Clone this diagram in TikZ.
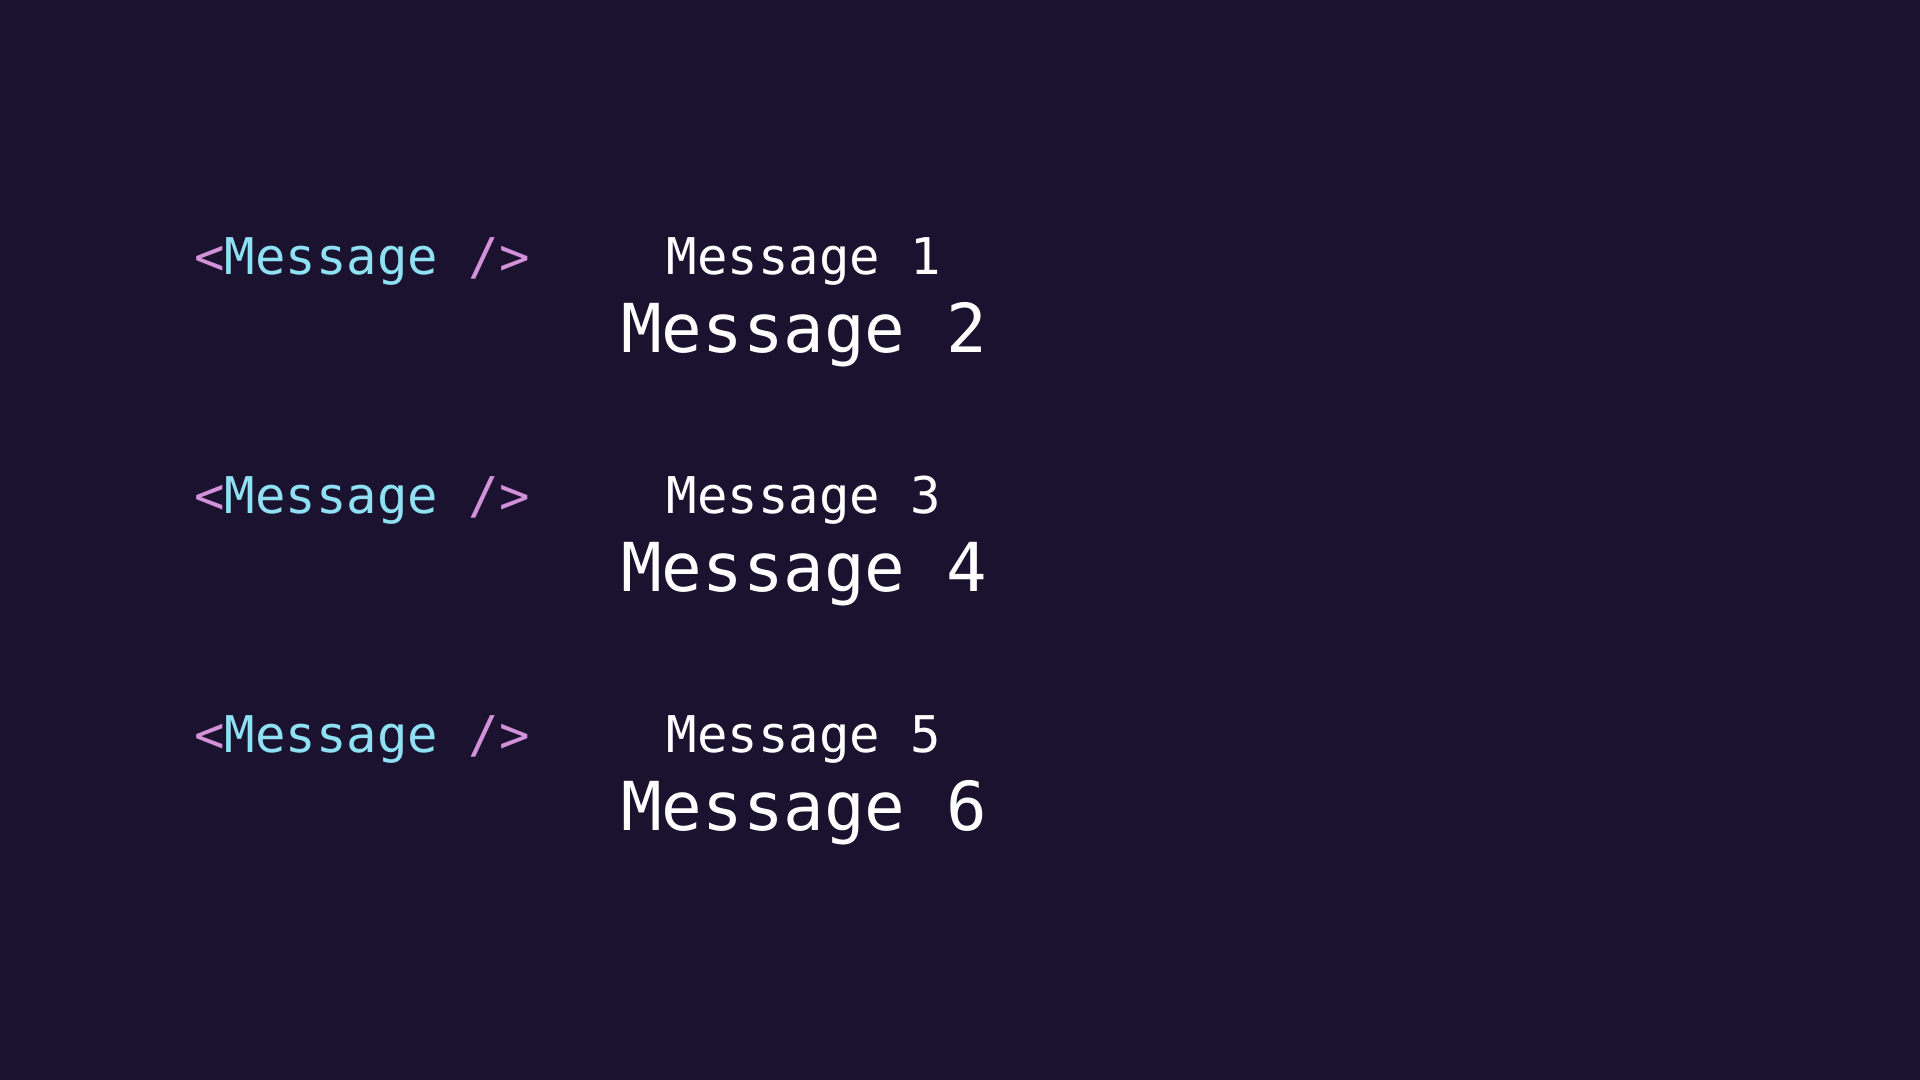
\documentclass[tikz,border=0pt]{standalone}
\usepackage{fontspec}
\setmonofont{DejaVu Sans Mono}
\usetikzlibrary{positioning}
\definecolor{bgdark}{RGB}{26, 18, 46}
\definecolor{tagpink}{RGB}{210, 145, 216}
\definecolor{tagcyan}{RGB}{143, 224, 242}

\begin{document}
\begin{tikzpicture}[
	tagtext/.style={anchor=base, inner sep=0pt, font=\ttfamily\fontsize{14.4pt}{17pt}\selectfont},
	smallmsg/.style={anchor=base, inner sep=0pt, white, font=\ttfamily\fontsize{14.4pt}{17pt}\selectfont},
	bigmsg/.style={anchor=base, inner sep=0pt, white, font=\ttfamily\fontsize{19.2pt}{23pt}\selectfont}
]
	\fill[bgdark] (0,0) rectangle (19.2cm,-10.8cm);

	% one component, two rendered messages per row
	\foreach \row/\ysmall/\ybig/\first/\second in {1/2.75/3.53/1/2, 2/5.138/5.918/3/4, 3/7.525/8.305/5/6} {
		\node[tagtext] (tag\row) at (3.62cm,-\ysmall cm) {\textcolor{tagpink}{<}\textcolor{tagcyan}{Message}~\textcolor{tagpink}{/>}};
		\node[smallmsg] (msg\first) at (8.04cm,-\ysmall cm) {Message \first};
		\node[bigmsg] (msg\second) at (8.04cm,-\ybig cm) {Message \second};
	}
\end{tikzpicture}
\end{document}
